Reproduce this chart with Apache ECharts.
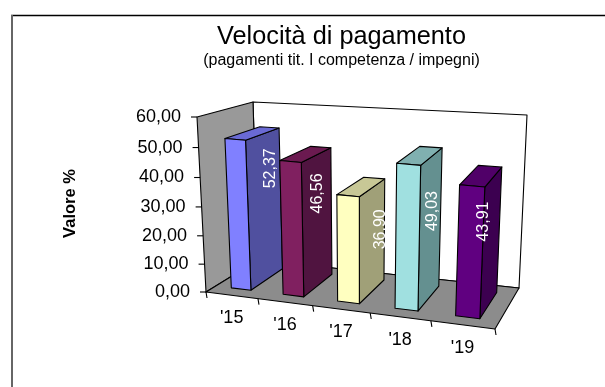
<!DOCTYPE html>
<html>
<head>
<meta charset="utf-8">
<style>html,body{margin:0;padding:0;background:#fff}#chart{width:605px;height:387px}</style>
<script src="https://cdn.jsdelivr.net/npm/echarts@6/dist/echarts.min.js"></script>
</head>
<body>
<div id="chart"></div>
<script>
const categories = ["'15", "'16", "'17", "'18", "'19"];
const velocita = [52.37, 46.56, 36.90, 49.03, 43.91];
const yTicks = [0, 10, 20, 30, 40, 50, 60];

const FONT = '"Liberation Sans", Arial, sans-serif';
const faceColors = [
  { front: '#8080ff', side: '#50509f', top: '#6a6ad4' },
  { front: '#802060', side: '#501440', top: '#6b1a50' },
  { front: '#ffffc0', side: '#a0a078', top: '#c8c896' },
  { front: '#a0e0e0', side: '#649090', top: '#80b0b0' },
  { front: '#600080', side: '#3c0050', top: '#500068' }
];
// Pixel shift of each rotated value label from the bar's mid-depth top edge.
const labelNudge = [[9, 34], [2, 38], [9, 41], [2, 54], [-9, 44]];

// Corners of the 3D plot box on screen, named [x][y][z] (0 = left/bottom/front).
const box = {
  '000': [206, 292], '100': [495, 329], '001': [258, 260], '101': [519, 288],
  '010': [197, 117], '110': [503, 143], '011': [253, 102], '111': [527, 115]
};
const PERSP_X = 1.14, PERSP_Y = 1.057;
const warp = (t, w) => t / (w - (w - 1) * t);
const lerp = (a, b, t) => [a[0] + (b[0] - a[0]) * t, a[1] + (b[1] - a[1]) * t];

// Projects normalised box coordinates to the screen.
function project(u, v, d) {
  const x = warp(u, PERSP_X), y = warp(v, PERSP_Y);
  const bottom = lerp(lerp(box['000'], box['100'], x), lerp(box['001'], box['101'], x), d);
  const top = lerp(lerp(box['010'], box['110'], x), lerp(box['011'], box['111'], x), d);
  return lerp(bottom, top, y);
}
// Turns a pixel from the cartesian scales into box coordinates.
function toBox(params, px, py) {
  const c = params.coordSys;
  return [(px - c.x) / c.width, (c.y + c.height - py) / c.height];
}
const poly = (points, fill) => ({
  type: 'polygon',
  shape: { points },
  style: { fill, stroke: '#000', lineWidth: 1.1, lineJoin: 'round' }
});
const line = (a, b) => ({
  type: 'line',
  shape: { x1: a[0], y1: a[1], x2: b[0], y2: b[1] },
  style: { stroke: '#000', lineWidth: 1.1 }
});

function renderWalls() {
  const p = project;
  return {
    type: 'group',
    children: [
      poly([p(0, 0, 1), p(0, 1, 1), p(1, 1, 1), p(1, 0, 1)], '#fff'),
      poly([p(0, 0, 0), p(0, 1, 0), p(0, 1, 1), p(0, 0, 1)], '#999999'),
      poly([p(0, 0, 0), p(1, 0, 0), p(1, 0, 1), p(0, 0, 1)], '#8c8c8c')
    ]
  };
}

function renderYTick(params, api) {
  const val = api.value(0);
  const pt = api.coord([0, val]);
  const v = toBox(params, pt[0], pt[1])[1];
  const p = project(0, v, 0);
  return {
    type: 'group',
    children: [
      line([p[0] - 6, p[1]], p),
      {
        type: 'text',
        style: {
          x: p[0] - 16, y: p[1], text: val.toFixed(2).replace('.', ','),
          align: 'right', verticalAlign: 'middle', fill: '#000', font: '18px ' + FONT
        }
      }
    ]
  };
}

function renderXTick(params, api) {
  const i = api.value(0);
  const size = api.size([1, 0])[0];
  const pt = api.coord([i, 0]);
  const u = toBox(params, pt[0], pt[1])[0];
  const left = project(u - size / params.coordSys.width / 2, 0, 0);
  const right = project(u + size / params.coordSys.width / 2, 0, 0);
  const mid = project(u, 0, 0);
  const children = [
    line(right, [right[0] + 1, right[1] + 6]),
    {
      type: 'text',
      style: {
        x: mid[0], y: mid[1] + 23, text: categories[i],
        align: 'center', verticalAlign: 'middle', fill: '#000', font: '18px ' + FONT
      }
    }
  ];
  if (i === 0) children.push(line(left, [left[0] + 1, left[1] + 6]));
  return { type: 'group', children };
}

function renderBar(params, api) {
  const i = api.value(0), val = api.value(1);
  const pt = api.coord([i, val]);
  const b = toBox(params, pt[0], pt[1]);
  const halfW = api.size([1, 0])[0] * 0.385 / 2 / params.coordSys.width;
  const x0 = b[0] - halfW, x1 = b[0] + halfW, v = b[1];
  const d0 = 0.19, d1 = 0.84;
  const c = faceColors[i];
  const anchor = project(x1, v, 0.5);
  const nudge = labelNudge[i];
  return {
    type: 'group',
    children: [
      poly([project(x1, 0, d0), project(x1, v, d0), project(x1, v, d1), project(x1, 0, d1)], c.side),
      poly([project(x0, v, d0), project(x1, v, d0), project(x1, v, d1), project(x0, v, d1)], c.top),
      poly([project(x0, 0, d0), project(x1, 0, d0), project(x1, v, d0), project(x0, v, d0)], c.front),
      {
        type: 'text',
        x: anchor[0] + nudge[0], y: anchor[1] + nudge[1], rotation: Math.PI / 2,
        style: {
          x: 0, y: 0, text: val.toFixed(2).replace('.', ','),
          align: 'center', verticalAlign: 'middle', fill: '#fff', font: '16px ' + FONT
        }
      }
    ]
  };
}

const chart = echarts.init(document.getElementById('chart'), null, { renderer: 'canvas' });
chart.setOption({
  animation: false,
  backgroundColor: '#fff',
  title: {
    text: 'Velocità di pagamento',
    subtext: '(pagamenti tit. I competenza / impegni)',
    left: 336.5, top: 20, textAlign: 'center', itemGap: 3,
    textStyle: { fontFamily: FONT, fontWeight: 'normal', fontSize: 25.3, color: '#000' },
    subtextStyle: { fontFamily: FONT, fontSize: 16, color: '#000' }
  },
  grid: { left: 0, top: 0, width: 600, height: 380 },
  xAxis: { type: 'category', data: categories, show: false },
  yAxis: { type: 'value', min: 0, max: 60, interval: 10, show: false },
  graphic: [
    { type: 'line', shape: { x1: 11, y1: 15.5, x2: 605, y2: 15.5 }, style: { stroke: '#000', lineWidth: 1.4 } },
    { type: 'line', shape: { x1: 12, y1: 15, x2: 12, y2: 387 }, style: { stroke: '#666', lineWidth: 2 } },
    {
      type: 'text', x: 70, y: 203.5, rotation: Math.PI / 2,
      style: { x: 0, y: 0, text: 'Valore %', align: 'center', verticalAlign: 'middle', fill: '#000', font: 'bold 16.5px ' + FONT }
    }
  ],
  series: [
    { type: 'custom', name: 'Pareti', silent: true, data: [[0]], renderItem: renderWalls, z: 1 },
    { type: 'custom', name: 'Asse valori', silent: true, data: yTicks.map(t => [t]), encode: { y: 0 }, renderItem: renderYTick, z: 2 },
    { type: 'custom', name: 'Asse anni', silent: true, data: categories.map((_, i) => [i]), encode: { x: 0 }, renderItem: renderXTick, z: 2 },
    { type: 'custom', name: 'Velocità', silent: true, data: velocita.map((v, i) => [i, v]), encode: { x: 0, y: 1 }, renderItem: renderBar, z: 3 }
  ]
});
</script>
</body>
</html>
